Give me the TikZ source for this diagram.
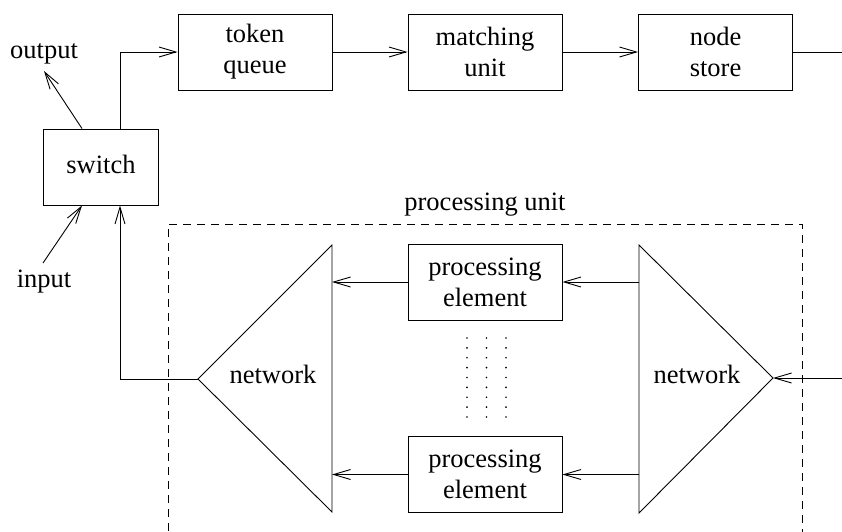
\documentclass[tikz,border=0pt]{standalone}
\usepackage{fontspec}
\setmainfont{Liberation Serif}
\usetikzlibrary{arrows.meta}
\begin{document}
\begin{tikzpicture}[x=1pt,y=-1pt,
  line width=0.9pt,
  txt/.style={font=\fontsize{26.5}{31}\selectfont},
  unitbox/.style={draw, txt, minimum width=154pt, minimum height=76pt,
    inner sep=0pt, align=center},
  lbl/.style={txt, inner sep=0pt, anchor=base},
  flow/.style={-{Straight Barb[length=17pt,width=10pt]}},
  ]
\useasboundingbox (0,0) rectangle (842,531);
\clip (0,0) rectangle (842,531);

% pipeline along the top
\node[unitbox] (tq) at (255,52) {token\\queue};
\node[unitbox] (mu) at (485,52) {matching\\unit};
\node[unitbox] (ns) at (715.5,52) {node\\store};
\node[draw, txt, minimum width=115pt, minimum height=76pt, inner sep=0pt]
  (sw) at (100.5,167) {};
\node[lbl] (swlbl) at (101,173) {switch};
\coordinate (nsout) at (842,52);

% processing unit frame
\draw[dash pattern=on 8pt off 6pt] (168,545) -- (168,224) -- (802,224) -- (802,545);
\node[lbl] (pulbl) at (485,210) {processing unit};

% output network (left) and input network (right)
\draw (332,245) coordinate (lt) -- (198,379) coordinate (ltip)
  -- (332,512) coordinate (lb) -- cycle;
\node[lbl] (lnet) at (273,383) {network};
\draw (639,245) coordinate (rt) -- (773,378) coordinate (rtip)
  -- (639,513) coordinate (rb) -- cycle;
\node[lbl] (rnet) at (697,383) {network};

% processing elements
\node[unitbox] (pe1) at (485,282) {processing\\element};
\node[unitbox] (pe2) at (485,474.5) {processing\\element};

% ellipsis between the elements
\foreach \x in {467,486.5,506}
  \foreach \i in {0,...,8}
    \fill (\x,338+\i*9.875) circle (0.9pt);

% connectors
\draw[flow] (sw.north -| 120,0) |- (tq.west);
\draw[flow] (tq.east) -- (mu.west);
\draw[flow] (mu.east) -- (ns.west);
\draw (ns.east) -- (nsout);

\coordinate (netin) at (842,378);
\draw[flow] (netin) -- (rtip);
\draw[flow] (pe1.east -| rt) -- (pe1.east);
\draw[flow] (pe2.east -| rt) -- (pe2.east);
\draw[flow] (pe1.west) -- (pe1.west -| lt);
\draw[flow] (pe2.west) -- (pe2.west -| lt);
\draw[flow] (ltip) -| (sw.south -| 120,0);

% external input and output of the switch
\coordinate (outend) at (44,71);
\coordinate (inend) at (43,263);
\draw[flow] (sw.north -| 82,0) -- (outend);
\draw[flow] (inend) -- (sw.south -| 82,0);
\node[lbl] (outlbl) at (44,58) {output};
\node[lbl] (inlbl) at (44,287) {input};
\end{tikzpicture}
\end{document}
